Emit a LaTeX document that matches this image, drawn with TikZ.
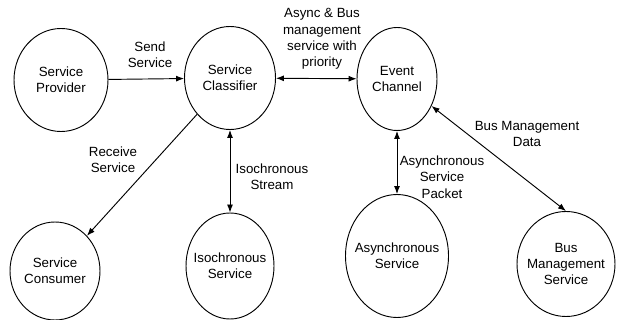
\documentclass[tikz,border=0pt]{standalone}
\usepackage{fontspec}
\setmainfont{Liberation Sans}
\usetikzlibrary{shapes.geometric,arrows.meta}

\begin{document}
\begin{tikzpicture}[x=0.75pt, y=-0.75pt, line width=0.7pt, >={Latex[length=6pt,width=4.5pt]},
state/.style={ellipse, draw, align=center, inner xsep=-15pt, inner ysep=0pt, font=\fontsize{10}{12.2}\selectfont},
lbl/.style={align=center, inner sep=0pt, font=\fontsize{10}{12.2}\selectfont}]
\useasboundingbox (0,0) rectangle (618,320);
\node[state, minimum width=70.5pt, minimum height=77.25pt] (prov) at (61,80) {Service\\Provider};
\node[state, minimum width=68.25pt, minimum height=77.25pt] (clas) at (230,78) {Service\\Classifier};
\node[state, minimum width=60pt, minimum height=77.25pt] (ev) at (397,79) {Event\\Channel};
\node[state, minimum width=67.5pt, minimum height=73.5pt] (cons) at (55,271) {Service\\Consumer};
\node[state, minimum width=66pt, minimum height=79.5pt] (iso) at (230,266) {Isochronous\\Service};
\node[state, minimum width=77.25pt, minimum height=92.25pt] (async) at (397,256) {Asynchronous\\Service};
\node[state, minimum width=73.5pt, minimum height=78.75pt] (bus) at (566,264) {Bus\\Management\\Service};

\node[lbl] (sendlbl) at (150,55) {Send\\Service};
\node[lbl] (prilbl) at (322,39) {Async \& Bus\\management\\service with\\priority};
\node[lbl] (recvlbl) at (113,160) {Receive\\Service};
\node[lbl] (isolbl) at (272,177) {Isochronous\\Stream};
\node[lbl] (pktlbl) at (442,177) {Asynchronous\\Service\\Packet};
\node[lbl] (buslbl) at (527,134) {Bus Management\\Data};

\draw[->] (prov) -- (clas);
\draw[<->] (clas) -- (ev);
\draw[->] (clas) -- (cons);
\draw[<->] (clas) -- (iso);
\draw[<->] (ev) -- (async);
\draw[<->] (ev) -- (bus.north);
\end{tikzpicture}
\end{document}
